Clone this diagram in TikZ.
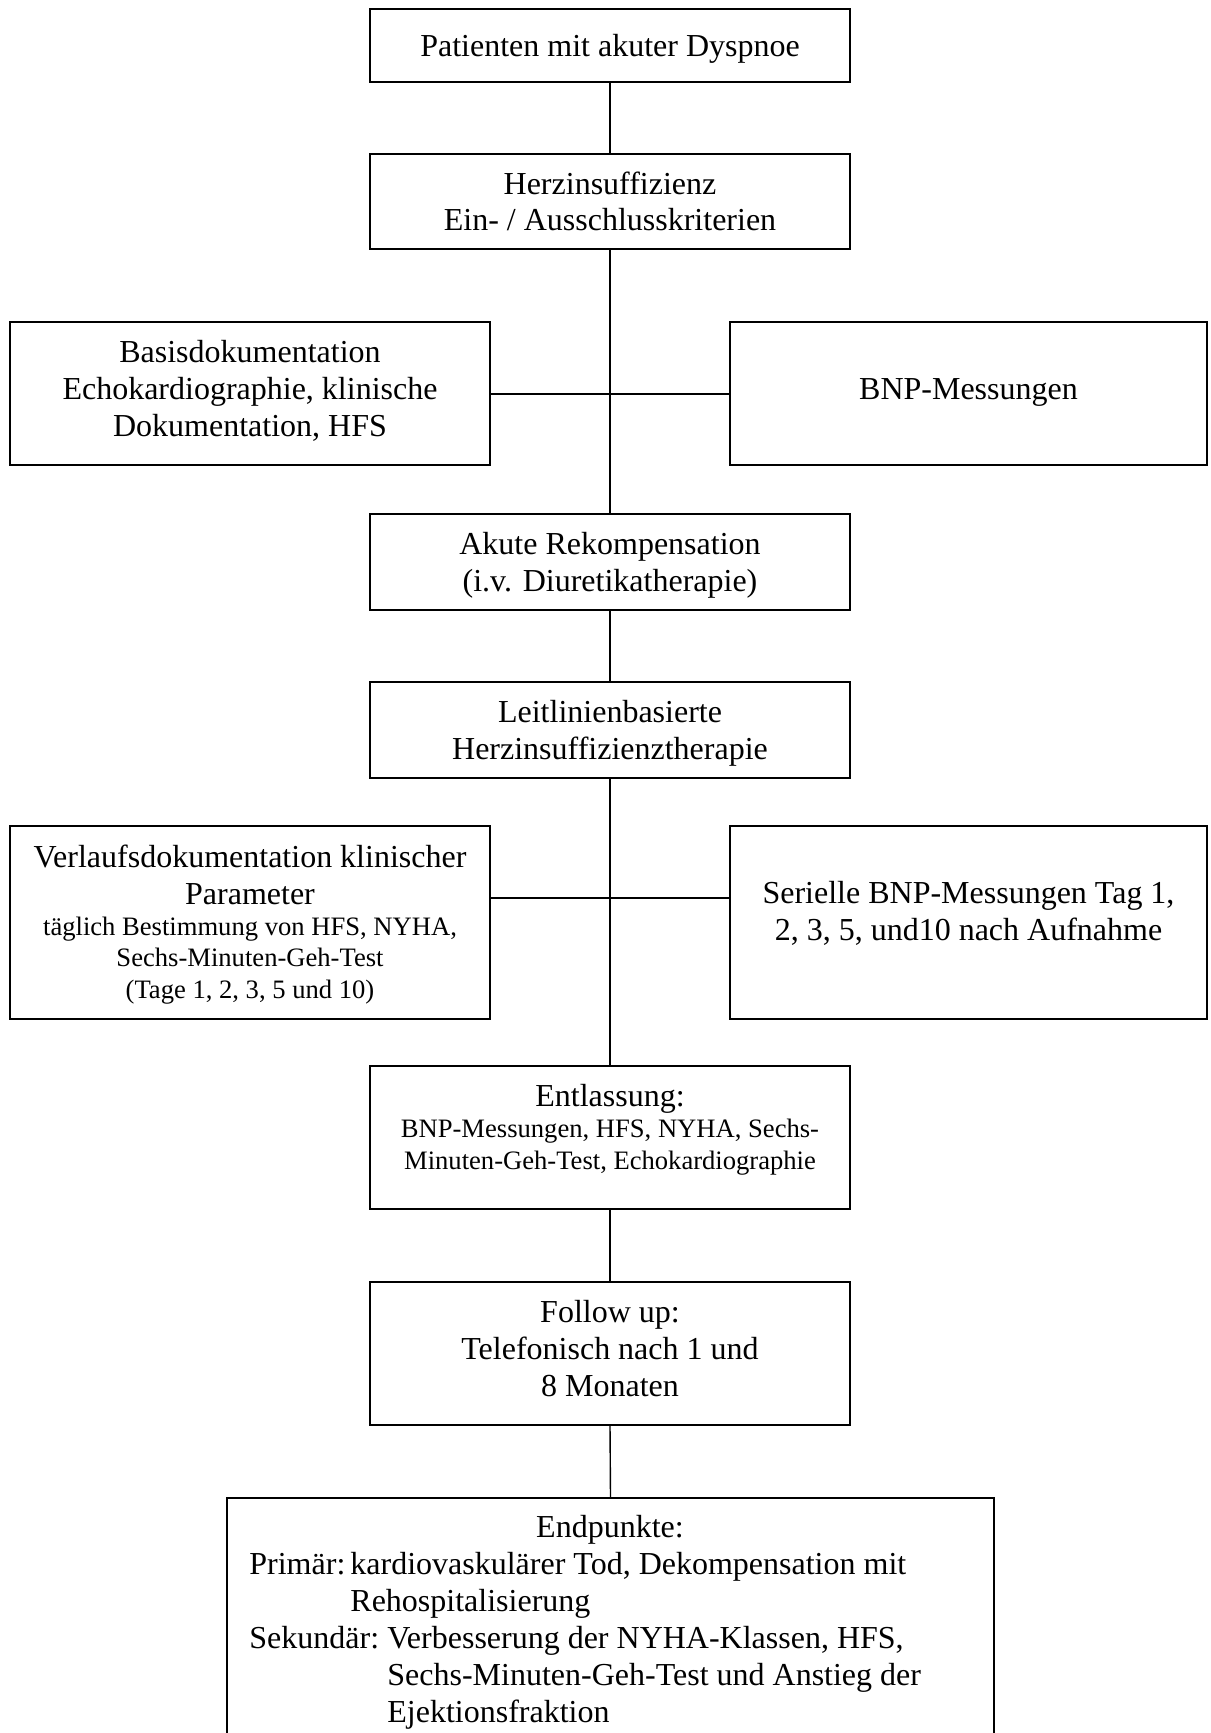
\documentclass[tikz,border=0pt]{standalone}
\usepackage{fontspec}
\setmainfont{Liberation Serif}
\begin{document}
\begin{tikzpicture}[x=0.5pt,y=-0.5pt,
  box/.style={draw,line width=0.7pt,rectangle,inner sep=0pt,minimum width=240pt},
  conn/.style={line width=0.7pt},
  big/.style={inner sep=0pt,align=center,anchor=base,font=\fontsize{16pt}{18.35pt}\selectfont},
  small/.style={inner sep=0pt,align=center,anchor=base,font=\fontsize{13.3pt}{15.65pt}\selectfont},
  lbig/.style={inner sep=0pt,align=left,anchor=base west,font=\fontsize{16pt}{18.35pt}\selectfont}]
\clip (0,0) rectangle (1210,1733);

% boxes
\node[box,minimum height=36.5pt] (b1) at (610,45.5) {};
\node[box,minimum height=47.5pt] (b2) at (610,201.5) {};
\node[box,minimum height=71.5pt] (b3) at (250,393.5) {};
\node[box,minimum height=71.5pt,minimum width=238.5pt] (b4) at (968.5,393.5) {};
\node[box,minimum height=48pt]   (b5) at (610,562) {};
\node[box,minimum height=48pt]   (b6) at (610,730) {};
\node[box,minimum height=96.5pt] (b7) at (250,922.5) {};
\node[box,minimum height=96.5pt,minimum width=238.5pt] (b8) at (968.5,922.5) {};
\node[box,minimum height=71.5pt] (b9) at (610,1137.5) {};
\node[box,minimum height=71.5pt] (b10) at (610,1353.5) {};
\node[box,minimum height=141pt,minimum width=383.5pt] (b11) at (610.5,1639) {};

% junctions of the side branches
\coordinate (j1) at (610,394);
\coordinate (j2) at (610,898);

% connectors
\draw[conn] (b1.south) -- (b2.north);
\draw[conn] (b2.south) -- (b5.north);
\draw[conn] (b3.east |- j1) -- (b4.west |- j1);
\draw[conn] (b5.south) -- (b6.north);
\draw[conn] (b6.south) -- (b9.north);
\draw[conn] (b7.east |- j2) -- (b8.west |- j2);
\draw[conn] (b9.south) -- (b10.north);
\draw[conn] (b10.south) -- (b11.north);

% texts (each node sits on the baseline of its last line)
\node[big] (t1) at (610,57) {Patienten mit akuter Dyspnoe};
\node[big] (t2) at (610,231) {Herzinsuffizienz\\Ein- / Ausschlusskriterien};
\node[big] (t3) at (250,436) {Basisdokumentation\\Echokardiographie, klinische\\Dokumentation, HFS};
\node[big] (t4) at (968.5,400) {BNP-Messungen};
\node[big] (t5) at (610,591) {Akute Rekompensation\\(i.v. Diuretikatherapie)};
\node[big] (t6) at (610,759) {Leitlinienbasierte\\Herzinsuffizienztherapie};
\node[big] (t7a) at (250,904) {Verlaufsdokumentation klinischer\\Parameter};
\node[small] (t7b) at (250,998) {täglich Bestimmung von HFS, NYHA,\\Sechs-Minuten-Geh-Test\\(Tage 1, 2, 3, 5 und 10)};
\node[big] (t8) at (968.5,940) {Serielle BNP-Messungen Tag 1,\\2, 3, 5, und10 nach Aufnahme};
\node[big] (t9a) at (610,1106) {Entlassung:};
\node[small] (t9b) at (610,1169) {BNP-Messungen, HFS, NYHA, Sechs-\\Minuten-Geh-Test, Echokardiographie};
\node[big] (t10) at (610,1396) {Follow up:\\Telefonisch nach 1 und\\8 Monaten};
\node[big] (t11) at (610,1537) {Endpunkte:};
\node[lbig] (t11p) at (249,1574) {Primär:};
\node[lbig] (t11pt) at (350,1611) {kardiovaskulärer Tod, Dekompensation mit\\Rehospitalisierung};
\node[lbig] (t11s) at (249,1648) {Sekundär:};
\node[lbig] (t11st) at (387,1722) {Verbesserung der NYHA-Klassen, HFS,\\Sechs-Minuten-Geh-Test und Anstieg der\\Ejektionsfraktion};
\end{tikzpicture}
\end{document}
